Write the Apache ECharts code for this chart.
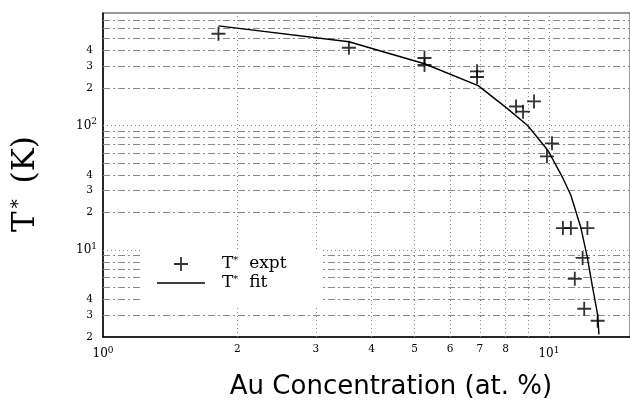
<!DOCTYPE html>
<html>
<head>
<meta charset="utf-8">
<script src="https://cdn.jsdelivr.net/npm/echarts@6/dist/echarts.min.js"></script>
<style>html,body{margin:0;padding:0;background:#fff}#c{width:630px;height:404px}</style>
</head>
<body>
<div id="c"></div>
<script>
// ---- data ----
const exptX = [1.815, 3.56, 5.26, 5.26, 6.90, 6.90, 8.44, 8.75, 9.26, 10.16, 9.90, 10.75, 11.2, 12.2, 11.9, 11.43, 12.0, 12.86];
const exptY = [545, 421, 348, 306, 272, 245, 142, 129, 156, 71.8, 56.5, 15, 15, 15, 8.63, 5.86, 3.37, 2.70];
const fitX = [1.815, 3.56, 5.26, 6.94, 8.02, 8.96, 9.95, 10.75, 11.2, 11.8, 12.2, 12.5, 12.86, 12.95];
const fitY = [631, 470, 313, 209, 139, 100, 63, 37.7, 27.5, 15, 8.63, 5.25, 3.02, 2.1];
const xMin = 1, xMax = 15.2, yMin = 2, yMax = 800;
const xMinorTicks = [2, 3, 4, 5, 6, 7, 8, 9, 10];
const xMinorLabels = ['2', '3', '4', '5', '6', '7', '8', '', ''];
const yMinorTicks = [3, 4, 5, 6, 7, 8, 9, 10, 20, 30, 40, 50, 60, 70, 80, 90, 100, 200, 300, 400, 500, 600, 700];
const yMinorLabels = ['3', '4', '', '', '', '', '', '', '2', '3', '4', '', '', '', '', '', '', '2', '3', '4', '', '', ''];
const legendNames = ['expt', 'fit'];
const xTitle = 'Au Concentration (at. %)';

const plusPath = 'path://M0,8.7H20V11.3H0Z M8.7,0H11.3V20H8.7Z';
const linePath = 'path://M0,0H48V1.5H0Z';
const serif = 'DejaVu Serif';
const isDecade = v => Math.abs(Math.log10(v) - Math.round(Math.log10(v))) < 1e-6;
const decadeLabel = v => isDecade(v) ? '{b|10}{s|' + Math.round(Math.log10(v)) + '}' : '';
const labelRich = {
  b: {fontFamily: serif, fontSize: 12, color: '#000', lineHeight: 16},
  s: {fontFamily: serif, fontSize: 9, color: '#000', verticalAlign: 'top', lineHeight: 16, padding: [0, 0, 6, 0]},
  m: {fontFamily: serif, fontSize: 10.5, color: '#000', padding: [0, 4, 0, 0]}
};

const dashDot = {color: '#888', width: 1, type: [7, 3, 2, 3]};
const dotted = {color: '#888', width: 1, type: [1, 3]};
const minorLbl = {show: true, position: 'start', fontFamily: serif, fontSize: 10.5, color: '#000'};

const markData = [];
xMinorTicks.forEach((v, i) => markData.push({
  xAxis: v, lineStyle: dotted,
  label: xMinorLabels[i] ? Object.assign({}, minorLbl, {formatter: xMinorLabels[i], distance: 7}) : {show: false}
}));
yMinorTicks.forEach((v, i) => markData.push({
  yAxis: v, lineStyle: isDecade(v) ? dotted : dashDot,
  label: yMinorLabels[i] ? Object.assign({}, minorLbl, {formatter: yMinorLabels[i], distance: 10}) : {show: false}
}));

const chart = echarts.init(document.getElementById('c'));
chart.setOption({
  animation: false,
  backgroundColor: '#fff',
  grid: {left: 103, top: 13, width: 448 * Math.log10(xMax), height: 324, show: true, borderColor: '#333', borderWidth: 1},
  xAxis: {
    type: 'log', logBase: 10, min: xMin, max: xMax,
    axisLine: {lineStyle: {color: '#000', width: 1.5}},
    axisTick: {show: false}, splitLine: {show: false},
    axisLabel: {formatter: decadeLabel, rich: labelRich, margin: 9, showMaxLabel: false}
  },
  yAxis: {
    type: 'log', logBase: 10, min: yMin, max: yMax,
    axisLine: {lineStyle: {color: '#000', width: 1.5}},
    axisTick: {show: false}, splitLine: {show: false},
    axisLabel: {formatter: v => Math.abs(v - yMin) < 1e-9 ? '{m|2}' : decadeLabel(v), rich: labelRich, margin: 6, showMaxLabel: false}
  },
  legend: {
    data: [{name: legendNames[0], icon: plusPath}, {name: legendNames[1], icon: linePath}],
    orient: 'vertical', left: 140, top: 250, z: 10,
    backgroundColor: '#fff', padding: [5, 36, 14, 17],
    itemWidth: 48, itemHeight: 14, itemGap: 1,
    formatter: n => '{p| }{t|T}{s|*}{t|  ' + n + '}',
    textStyle: {
      color: '#000',
      rich: {
        p: {width: 12, lineHeight: 20},
        t: {fontFamily: serif, fontSize: 17, color: '#000', lineHeight: 20},
        s: {fontFamily: serif, fontSize: 10, color: '#000', lineHeight: 20, padding: [0, 0, 8, 0]}
      }
    }
  },
  series: [
    {
      name: legendNames[1], type: 'line', z: 3,
      data: fitX.map((x, i) => [x, fitY[i]]),
      symbol: 'none', color: '#000',
      lineStyle: {color: '#000', width: 1.4},
      markLine: {silent: true, z: 1, symbol: ['none', 'none'], animation: false, data: markData}
    },
    {
      name: legendNames[0], type: 'scatter', z: 4,
      data: exptX.map((x, i) => [x, exptY[i]]),
      symbol: plusPath, symbolSize: 14, itemStyle: {color: '#000'}
    }
  ],
  graphic: [
    {type: 'text', x: 391, y: 387,
     style: {text: xTitle, font: '26px "DejaVu Sans"', fill: '#000', textAlign: 'center', textVerticalAlign: 'middle'}},
    {type: 'text', x: 26, y: 184, rotation: Math.PI / 2,
     style: {text: '{a|T}{s|*}{a| (K)}', textAlign: 'center', textVerticalAlign: 'middle',
       rich: {a: {fontFamily: serif, fontSize: 31, fill: '#000', lineHeight: 36},
              s: {fontFamily: serif, fontSize: 18, fill: '#000', lineHeight: 36, padding: [0, 6, 14, 3]}}}}
  ]
});
</script>
</body>
</html>
